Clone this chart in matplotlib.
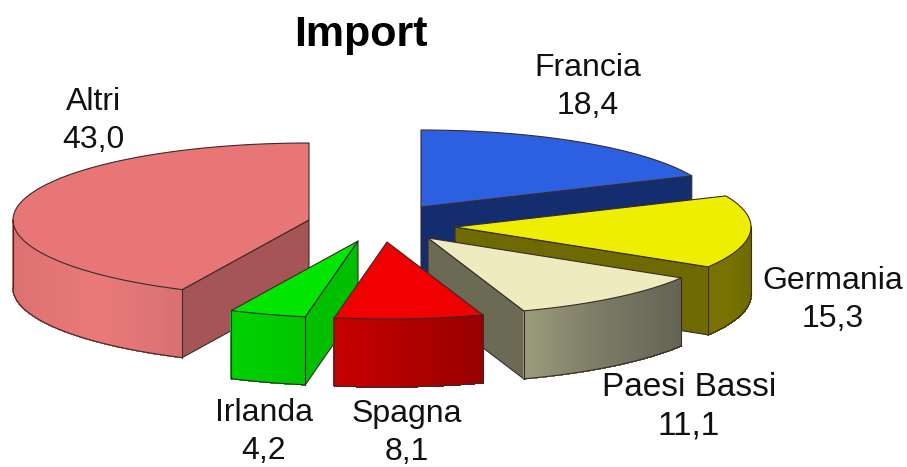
import numpy as np
import matplotlib
matplotlib.use("Agg")
import matplotlib.pyplot as plt
from matplotlib.collections import PolyCollection
from matplotlib.patches import Polygon

plt.rcParams["font.family"] = ["Liberation Sans", "DejaVu Sans"]

# data
title = "Import"
countries = ["Francia", "Germania", "Paesi Bassi", "Spagna", "Irlanda", "Altri"]
shares = [18.4, 15.3, 11.1, 8.1, 4.2, 43.0]

# pie geometry in pixels
radius_x = 296
radius_y = 77
depth = 68
centers = [(421, 207), (455, 227), (428, 238), (387, 242), (358, 241), (309, 220)]
label_pos = [(588, 87), (833, 300), (689, 407), (407, 433), (264, 432), (93, 121)]
label_sizes = [23, 23, 24, 23, 23, 23]

# colours: top, cut face, rim left/middle/right
top_colors = ["#2d5fe1", "#eeee00", "#eeebbe", "#f00000", "#00e600", "#e87676"]
face_colors = ["#142d6e", "#6e6900", "#6b6b55", "#a00000", "#00bf00", "#a55555"]
rim_colors = [
    ("#142d6e", "#142d6e", "#142d6e"),
    ("#787300", "#787300", "#6e6900"),
    ("#9c9c7c", "#7a7a66", "#646455"),
    ("#c80000", "#b00000", "#980000"),
    ("#00d000", "#00cc00", "#00c400"),
    ("#dd7070", "#ea7a7a", "#d87070"),
]
edge_color = "#3a2a2a"

# order of drawing, back to front
draw_order = [0, 1, 2, 5, 4, 3]


def outline(cx, cy, angles, drop=0):
    return np.column_stack([cx + radius_x * np.sin(angles),
                            cy - radius_y * np.cos(angles) + drop])


def draw_slice(ax, i, start, end):
    cx, cy = centers[i]
    edge = dict(edgecolor=edge_color, linewidth=0.8, joinstyle="round")

    # cut faces, only the ones turned towards the viewer
    for angle, visible in ((start, np.sin(start) < -1e-6), (end, np.sin(end) > 1e-6)):
        if visible:
            rim_pt = outline(cx, cy, np.array([angle]))[0]
            face = [(cx, cy), rim_pt, rim_pt + (0, depth), (cx, cy + depth)]
            ax.add_patch(Polygon(face, facecolor=face_colors[i], **edge))

    # outer rim, only the front half of the ellipse shows
    rim_start = max(start, np.pi / 2)
    rim_end = min(end, 3 * np.pi / 2)
    if rim_end > rim_start:
        angles = np.linspace(rim_start, rim_end, 80)
        pts = outline(cx, cy, angles)
        quads = [[pts[k], pts[k + 1], pts[k + 1] + (0, depth), pts[k] + (0, depth)]
                 for k in range(len(pts) - 1)]
        # shade along the rim from the screen left side to the right
        right, mid, left = [np.array(matplotlib.colors.to_rgb(c)) for c in rim_colors[i]][::-1]
        xs = (pts[:-1, 0] - pts[:, 0].min()) / max(np.ptp(pts[:, 0]), 1)
        shades = [left + (mid - left) * x * 2 if x < 0.5 else mid + (right - mid) * (x - 0.5) * 2
                  for x in xs]
        ax.add_collection(PolyCollection(quads, facecolors=shades, edgecolors=shades,
                                         linewidths=0.6, antialiaseds=False))
        ax.plot(pts[:, 0], pts[:, 1] + depth, color=edge_color, lw=0.8)
        for p in (pts[0], pts[-1]):
            ax.plot([p[0], p[0]], [p[1], p[1] + depth], color=edge_color, lw=0.8)

    # top of the slice
    arc = outline(cx, cy, np.linspace(start, end, 120))
    top = np.vstack([[cx, cy], arc])
    ax.add_patch(Polygon(top, facecolor=top_colors[i], **edge))


fig = plt.figure(figsize=(9.07, 4.67), dpi=100)
ax = fig.add_axes([0, 0, 1, 1])
ax.set_xlim(0, 907)
ax.set_ylim(467, 0)
ax.axis("off")

# slices run clockwise from twelve o'clock
bounds = np.r_[0, np.cumsum(shares)] / np.sum(shares) * 2 * np.pi
for i in draw_order:
    draw_slice(ax, i, bounds[i], bounds[i + 1])

for name, value, (x, y), size in zip(countries, shares, label_pos, label_sizes):
    text = f"{name}\n{value:.1f}".replace(".", ",")
    ax.text(x, y, text, ha="center", va="center", fontsize=size, color="#111111", linespacing=1.33)

ax.text(361, 35, title, ha="center", va="center", fontsize=31, fontweight="bold", color="black")

fig.savefig("out.png", dpi=100)
plt.close(fig)
